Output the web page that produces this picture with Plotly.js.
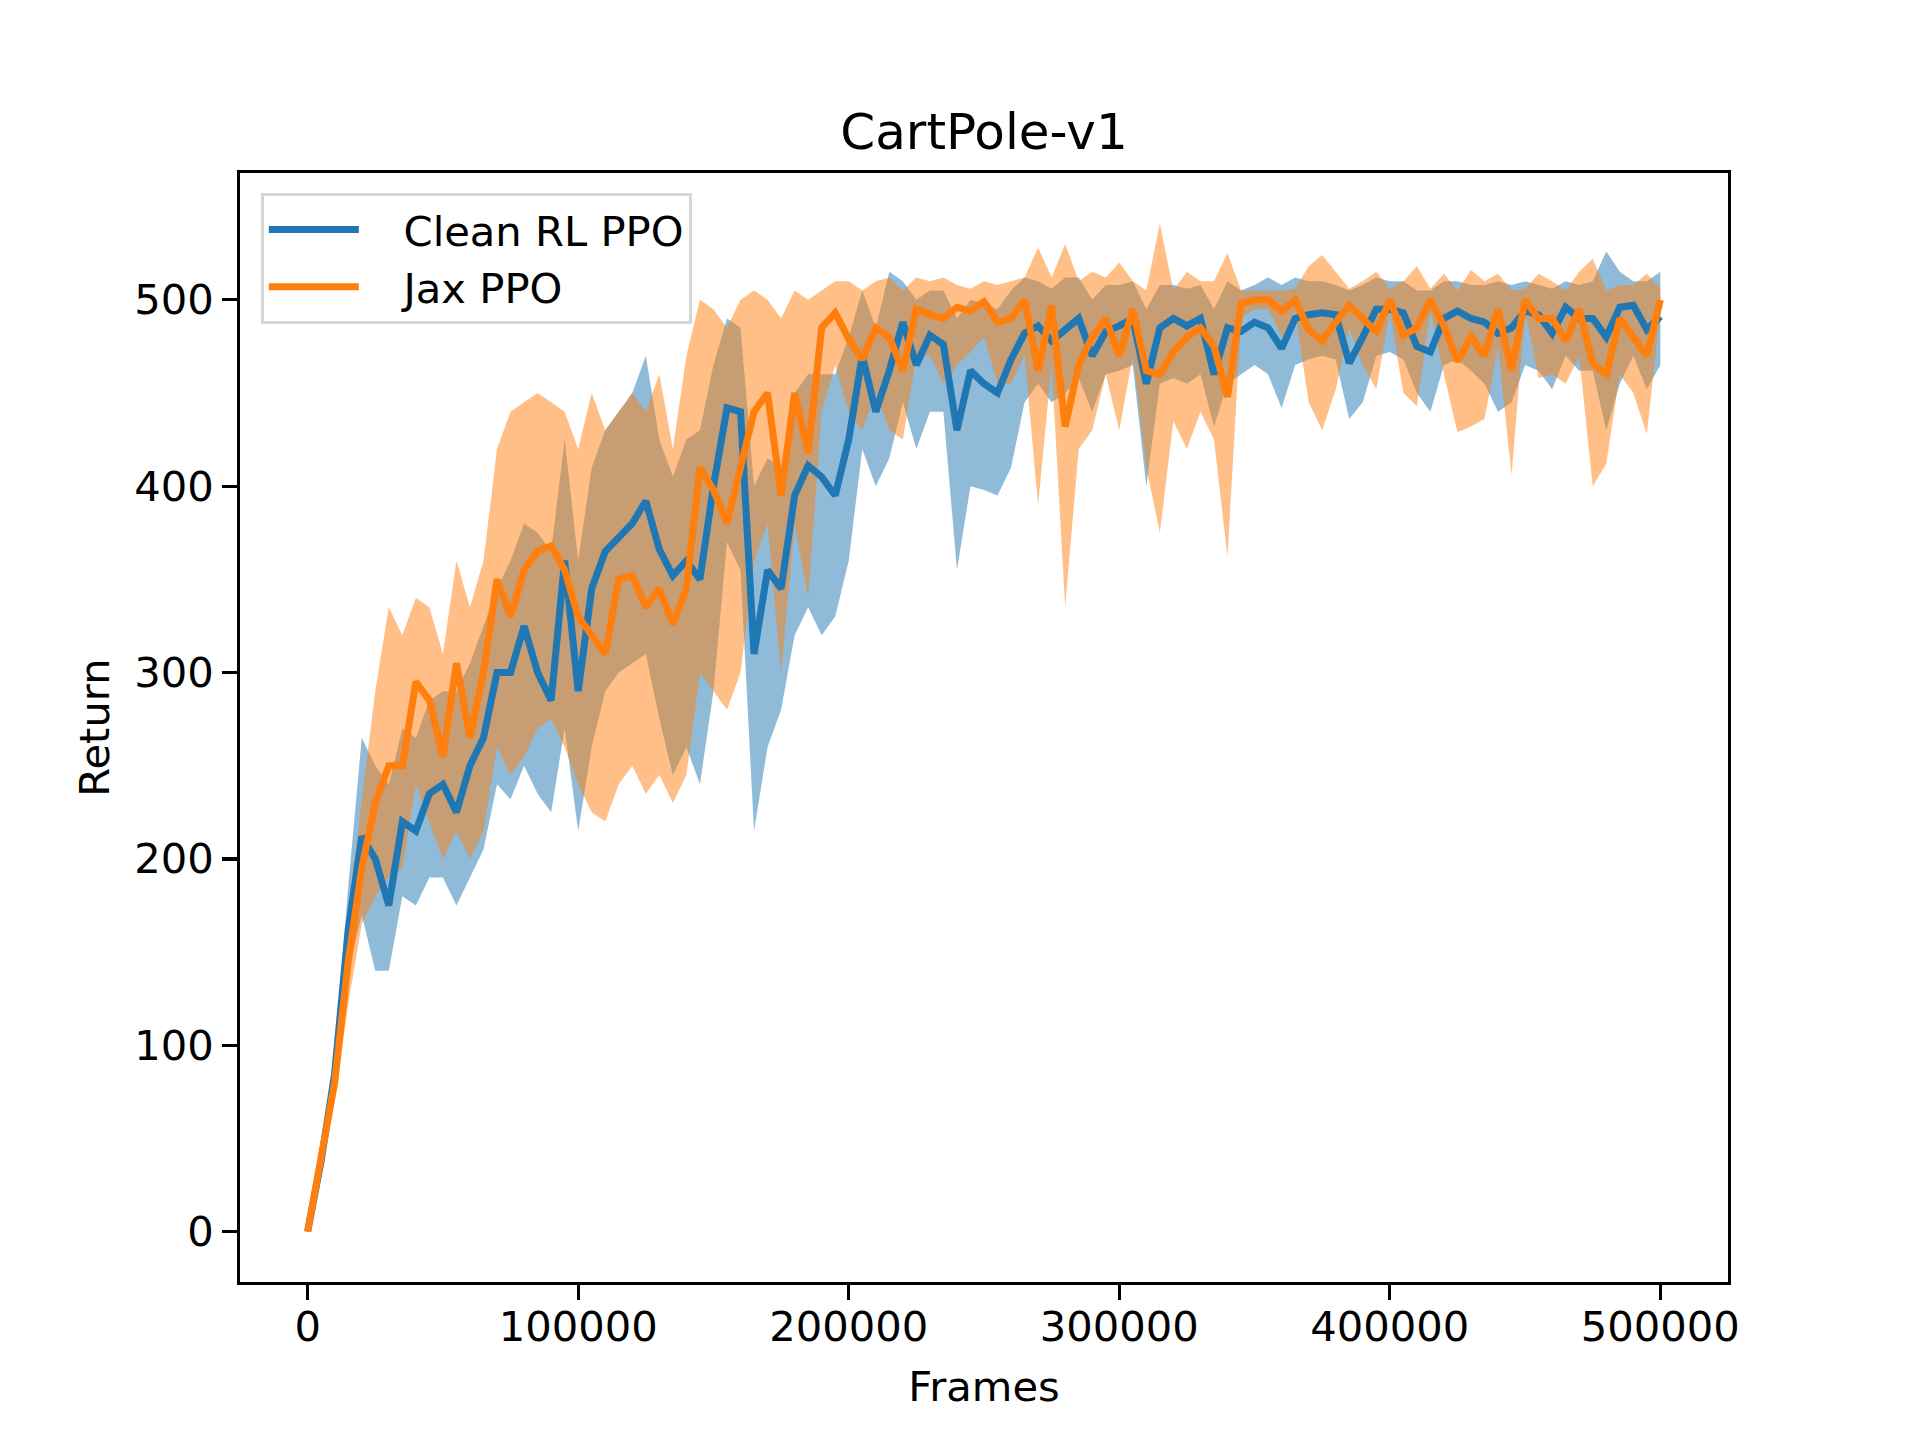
<!DOCTYPE html>
<html>
<head>
<meta charset="utf-8">
<script src="https://cdn.plot.ly/plotly-3.0.1.min.js"></script>
<style>html,body{margin:0;padding:0;background:#fff;}#chart{width:1920px;height:1440px;}</style>
</head>
<body>
<div id="chart"></div>
<script>
// Frames (x)
const frames = [0,5000,10000,15000,20000,25000,30000,35000,40000,45000,
  50000,55000,60000,65000,70000,75000,80000,85000,90000,95000,
  100000,105000,110000,115000,120000,125000,130000,135000,140000,145000,
  150000,155000,160000,165000,170000,175000,180000,185000,190000,195000,
  200000,205000,210000,215000,220000,225000,230000,235000,240000,245000,
  250000,255000,260000,265000,270000,275000,280000,285000,290000,295000,
  300000,305000,310000,315000,320000,325000,330000,335000,340000,345000,
  350000,355000,360000,365000,370000,375000,380000,385000,390000,395000,
  400000,405000,410000,415000,420000,425000,430000,435000,440000,445000,
  450000,455000,460000,465000,470000,475000,480000,485000,490000,495000,500000];

// Clean RL PPO: mean, lower and upper band
const cleanMean = [0,38,85,162,212,200,175,220,215,235,
  240,225,250,265,300,300,325,300,285,360,
  290,345,365,372,380,392,366,352,360,350,
  400,442,440,310,355,345,395,411,405,395,
  425,470,440,462,488,465,481,476,430,462,
  455,450,468,482,486,478,484,490,470,483,
  486,490,455,485,490,486,490,460,485,483,
  488,485,474,490,492,493,492,466,480,495,
  495,493,475,472,490,494,490,488,482,485,
  494,492,482,496,490,490,480,496,497,484,491];
const cleanLow = [0,30,75,140,170,140,140,180,175,190,
  190,175,190,205,240,232,250,235,225,270,
  215,260,290,300,305,310,275,245,260,240,
  290,370,355,215,260,280,320,335,320,330,
  360,420,400,415,445,420,440,440,355,400,
  398,395,410,445,455,445,450,458,440,460,
  462,465,400,455,458,455,460,432,455,460,
  465,460,442,465,468,470,468,436,445,470,
  472,468,450,440,465,468,462,455,440,445,
  465,462,452,470,462,462,430,455,470,452,465];
const cleanHigh = [0,48,95,185,265,250,240,270,265,285,
  290,290,305,325,345,360,380,375,365,425,
  360,410,430,440,450,470,425,405,425,430,
  465,490,485,400,415,410,450,460,460,460,
  480,505,485,515,510,500,505,505,490,500,
  498,495,505,512,510,506,512,512,500,508,
  508,510,495,508,508,506,508,495,510,505,
  508,512,508,512,510,510,508,505,508,512,
  510,510,505,505,510,510,508,508,510,508,
  510,508,506,510,508,510,526,515,510,510,515];

// Jax PPO: mean, lower and upper band
const jaxMean = [0,38,80,145,195,230,250,250,295,285,
  255,305,265,300,350,330,355,365,368,355,
  330,320,310,350,352,335,345,326,345,410,
  398,380,410,440,450,395,450,418,485,493,
  479,468,485,480,462,495,492,490,496,494,
  499,488,490,500,462,497,432,465,480,490,
  470,495,462,460,472,480,485,475,448,498,
  500,500,494,500,484,478,488,497,490,483,
  500,481,485,500,486,467,480,470,495,462,
  500,490,490,478,495,466,460,490,480,470,500];
const jaxLow = [0,32,70,122,165,180,190,195,240,220,
  200,215,200,215,260,245,255,270,275,260,
  240,225,220,240,250,235,245,230,245,300,
  290,280,300,360,380,300,380,340,440,465,
  440,430,450,430,425,470,470,455,465,472,
  480,455,455,470,390,465,335,420,430,460,
  430,470,410,375,435,420,440,425,362,490,
  495,495,480,494,445,430,452,485,465,452,
  494,450,443,494,460,429,432,436,475,406,
  494,458,460,455,470,400,412,460,450,428,494];
const jaxHigh = [0,44,90,172,230,290,335,320,340,335,
  310,360,335,360,420,440,445,450,445,440,
  420,450,430,440,450,440,460,420,470,500,
  495,485,500,505,500,490,505,500,505,510,
  510,505,510,512,505,512,510,512,508,506,
  510,508,510,512,528,512,530,510,515,512,
  520,510,505,541,505,515,510,510,525,505,
  505,505,505,506,518,524,515,506,510,515,
  506,510,518,506,514,505,516,510,514,505,
  506,514,510,505,515,522,505,508,508,514,506];

const names = ['Clean RL PPO', 'Jax PPO'];
const lineColors = ['#1f77b4', '#ff7f0e'];
const fillColors = ['rgba(31,119,180,0.5)', 'rgba(255,127,14,0.5)'];

const series = [
  {mean: cleanMean, low: cleanLow, high: cleanHigh},
  {mean: jaxMean, low: jaxLow, high: jaxHigh}
];

const traces = [];
series.forEach((s, i) => {
  traces.push({x: frames, y: s.low, type: 'scatter', mode: 'lines',
    line: {width: 0, color: fillColors[i]}, showlegend: false, hoverinfo: 'skip'});
  traces.push({x: frames, y: s.high, type: 'scatter', mode: 'lines', fill: 'tonexty',
    fillcolor: fillColors[i], line: {width: 0, color: fillColors[i]}, showlegend: false, hoverinfo: 'skip'});
});
series.forEach((s, i) => {
  traces.push({x: frames, y: s.mean, type: 'scatter', mode: 'lines',
    name: '\u00a0\u00a0\u00a0' + names[i],
    line: {width: 7, color: lineColors[i]}});
});

const font = 'DejaVu Sans, sans-serif';
const axisCommon = {
  showline: true, mirror: true, linecolor: '#000', linewidth: 3.3,
  ticks: 'outside', ticklen: 14.6, tickwidth: 3.3, tickcolor: '#000',
  showgrid: false, zeroline: false,
  tickfont: {family: font, size: 41.67, color: '#000'}
};

const layout = {
  width: 1920, height: 1440,
  paper_bgcolor: '#fff', plot_bgcolor: '#fff',
  margin: {l: 240, r: 192, t: 173, b: 158, pad: 0},
  font: {family: font, color: '#000'},
  title: {text: 'CartPole-v1', font: {family: font, size: 50, color: '#000'},
    x: 0.5125, xanchor: 'center', y: 1 - 131/1440, yanchor: 'middle', yref: 'container'},
  xaxis: Object.assign({}, axisCommon, {
    range: [-25000, 525000], tickvals: [0,100000,200000,300000,400000,500000],
    ticktext: ['0','100000','200000','300000','400000','500000'],
    ticklabelstandoff: -9,
    title: {text: 'Frames', font: {family: font, size: 41.67, color: '#000'}, standoff: 23}
  }),
  yaxis: Object.assign({}, axisCommon, {
    range: [-27.05, 568.05], tickvals: [0,100,200,300,400,500],
    ticktext: ['0','100','200','300','400','500'],
    ticklabelstandoff: 0,
    title: {text: 'Return', font: {family: font, size: 41.67, color: '#000'}, standoff: 12}
  }),
  legend: {x: 0.014, y: 0.982, xanchor: 'left', yanchor: 'top', traceorder: 'normal',
    bgcolor: 'rgba(255,255,255,0.8)', bordercolor: '#d6d6d6', borderwidth: 3,
    font: {family: font, size: 41.67, color: '#000'}, itemwidth: 90, tracegroupgap: 0},
  showlegend: true
};

Plotly.newPlot('chart', traces, layout, {staticPlot: true, displayModeBar: false});
</script>
</body>
</html>
